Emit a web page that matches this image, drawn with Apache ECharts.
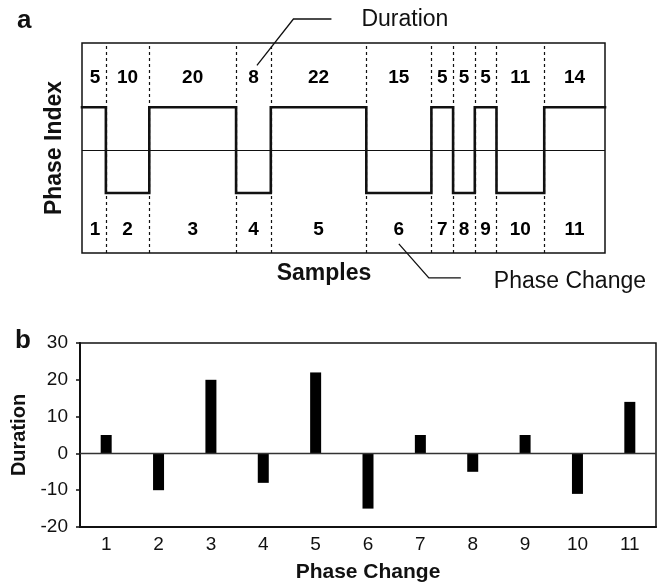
<!DOCTYPE html>
<html>
<head>
<meta charset="utf-8">
<script src="https://cdn.jsdelivr.net/npm/echarts@6/dist/echarts.min.js"></script>
<style>
  html, body { margin: 0; padding: 0; background: #fff; }
  #chart { width: 667px; height: 584px; }
</style>
</head>
<body>
<div id="chart"></div>
<script>
// Duration (in samples) of each phase, in order of phase change
const phaseDurations = [5, 10, 20, 8, 22, 15, 5, 5, 5, 11, 14];
// Phase index level of each phase: +1 high, -1 low
const phaseLevels = [1, -1, 1, -1, 1, -1, 1, -1, 1, -1, 1];
// Phase change numbers
const phaseChanges = ['1', '2', '3', '4', '5', '6', '7', '8', '9', '10', '11'];
// Signed duration for each phase change (panel b)
const signedDurations = [5, -10, 20, -8, 22, -15, 5, -5, 5, -11, 14];
// Duration axis tick labels (panel b)
const durationTicks = [-20, -10, 0, 10, 20, 30];

const FONT = '"Liberation Sans", Arial, Helvetica, sans-serif';
const INK = '#111';

// Sample axis and phase-index axis ranges for panel a
const SAMPLE_MIN = -0.5;
const SAMPLE_MAX = phaseDurations.reduce((a, b) => a + b, 0);
const LEVEL_MIN = -2.4, LEVEL_MAX = 2.5;
const TOP_LABEL_LEVEL = 1.7, BOTTOM_LABEL_LEVEL = -1.86;

// Cumulative phase boundaries
const bounds = [0];
phaseDurations.forEach(d => bounds.push(bounds[bounds.length - 1] + d));

// Square-wave trace of the phase index
const stepPoints = [];
phaseLevels.forEach((lv, i) => {
  const x0 = i === 0 ? SAMPLE_MIN : bounds[i];
  stepPoints.push([x0, lv], [bounds[i + 1], lv]);
});

const mid = i => (bounds[i] + bounds[i + 1]) / 2;
const durationLabels = phaseDurations.map((d, i) => [mid(i), TOP_LABEL_LEVEL, d]);
const changeLabels = phaseChanges.map((c, i) => [mid(i), BOTTOM_LABEL_LEVEL, c]);
const boundaryLines = bounds.slice(1, -1).map(x => ({ xAxis: x }));

const chart = echarts.init(document.getElementById('chart'), null, { renderer: 'canvas' });

const labelText = {
  fontFamily: FONT, fontSize: 19, fontWeight: 'bold', color: '#000',
  textBorderWidth: 0, textBorderColor: 'transparent', textShadowBlur: 0, opacity: 1
};

chart.setOption({
  animation: false,
  backgroundColor: '#fff',
  textStyle: { fontFamily: FONT, color: INK },
  grid: [
    { left: 82, top: 43, width: 523, height: 210, show: true, borderColor: INK, borderWidth: 1.5 },
    { left: 80, top: 343, width: 576, height: 186, show: true, borderColor: INK, borderWidth: 1.5 }
  ],
  xAxis: [
    {
      gridIndex: 0, type: 'value', min: SAMPLE_MIN, max: SAMPLE_MAX,
      axisLine: { show: false }, axisTick: { show: false },
      axisLabel: { show: false }, splitLine: { show: false }
    },
    {
      gridIndex: 1, type: 'category', data: phaseChanges, boundaryGap: true,
      axisLine: { onZero: false, lineStyle: { color: INK, width: 2 } },
      axisTick: { show: false },
      axisLabel: { fontFamily: FONT, fontSize: 19, color: INK, margin: 8 },
      splitLine: { show: false },
      name: 'Phase Change', nameLocation: 'middle', nameGap: 35,
      nameTextStyle: { fontFamily: FONT, fontSize: 21, fontWeight: 'bold', color: INK }
    }
  ],
  yAxis: [
    {
      gridIndex: 0, type: 'value', min: LEVEL_MIN, max: LEVEL_MAX,
      axisLine: { show: false }, axisTick: { show: false },
      axisLabel: { show: false }, splitLine: { show: false },
      name: 'Phase Index', nameLocation: 'middle', nameGap: 16,
      nameTextStyle: { fontFamily: FONT, fontSize: 23, fontWeight: 'bold', color: INK }
    },
    {
      gridIndex: 1, type: 'value', min: -20, max: 30, interval: 10,
      axisLine: { show: true, onZero: false, lineStyle: { color: INK, width: 2 } },
      axisTick: { show: true, length: 4, customValues: durationTicks, lineStyle: { color: INK, width: 1.5 } },
      axisLabel: { fontFamily: FONT, fontSize: 19, color: INK, margin: 12, customValues: durationTicks },
      splitLine: { show: false },
      name: 'Duration', nameLocation: 'middle', nameGap: 47,
      nameTextStyle: { fontFamily: FONT, fontSize: 20, fontWeight: 'bold', color: INK }
    }
  ],
  series: [
    {
      // phase boundaries, centre line and duration numbers
      type: 'scatter', xAxisIndex: 0, yAxisIndex: 0, z: 1,
      data: durationLabels, symbolSize: 1,
      itemStyle: { color: 'rgba(255,255,255,0)' },
      emphasis: { disabled: true },
      label: { show: true, position: 'inside', formatter: p => String(p.value[2]), ...labelText },
      markLine: {
        silent: true, symbol: ['none', 'none'], animation: false,
        label: { show: false },
        lineStyle: { color: INK, width: 1.2, type: [3, 3] },
        data: boundaryLines.concat([{ yAxis: 0, lineStyle: { type: 'solid', width: 1.2, color: INK } }])
      }
    },
    {
      // phase change numbers
      type: 'scatter', xAxisIndex: 0, yAxisIndex: 0, z: 1,
      data: changeLabels, symbolSize: 1,
      itemStyle: { color: 'rgba(255,255,255,0)' },
      emphasis: { disabled: true },
      label: { show: true, position: 'inside', formatter: p => String(p.value[2]), ...labelText }
    },
    {
      type: 'line', xAxisIndex: 0, yAxisIndex: 0, z: 3,
      data: stepPoints, symbol: 'none',
      lineStyle: { color: INK, width: 2.6, join: 'miter', cap: 'square' }
    },
    {
      type: 'bar', xAxisIndex: 1, yAxisIndex: 1,
      data: signedDurations, barWidth: 11,
      itemStyle: { color: '#000' },
      markLine: {
        silent: true, symbol: ['none', 'none'], animation: false,
        label: { show: false },
        lineStyle: { color: '#333', width: 1.3, type: 'solid' },
        data: [{ yAxis: 0 }]
      }
    }
  ]
});

// Annotations: panel letters, sample axis title and callouts
const px = (x, y) => chart.convertToPixel({ xAxisIndex: 0, yAxisIndex: 0 }, [x, y]);
const durAnchor = px(mid(3), TOP_LABEL_LEVEL);
const chgAnchor = px(mid(5), BOTTOM_LABEL_LEVEL);
const plotA = px(SAMPLE_MIN, LEVEL_MAX);
const plotAEnd = px(SAMPLE_MAX, LEVEL_MIN);

const txt = (text, x, y, size, weight, align) => ({
  type: 'text', x: x, y: y, silent: true,
  style: {
    text: text, fill: INK, fontFamily: FONT, fontSize: size, fontWeight: weight,
    align: align || 'left', verticalAlign: 'middle'
  }
});
const leader = pts => ({
  type: 'polyline', silent: true,
  shape: { points: pts },
  style: { stroke: INK, lineWidth: 1.3, fill: null }
});

chart.setOption({
  graphic: [
    txt('a', 17, 21, 26, 'bold'),
    txt('b', 15, 341, 26, 'bold'),
    txt('Samples', plotA[0] + 242, plotAEnd[1] + 21, 23, 'bold', 'center'),
    leader([
      [durAnchor[0] + 3.5, durAnchor[1] - 12],
      [durAnchor[0] + 40, 19],
      [durAnchor[0] + 78, 19]
    ]),
    txt('Duration', durAnchor[0] + 108, 20, 23, 'normal'),
    leader([
      [chgAnchor[0], chgAnchor[1] + 14],
      [chgAnchor[0] + 30, chgAnchor[1] + 48],
      [chgAnchor[0] + 62, chgAnchor[1] + 48]
    ]),
    txt('Phase Change', chgAnchor[0] + 95, chgAnchor[1] + 52, 23, 'normal')
  ]
});
</script>
</body>
</html>
